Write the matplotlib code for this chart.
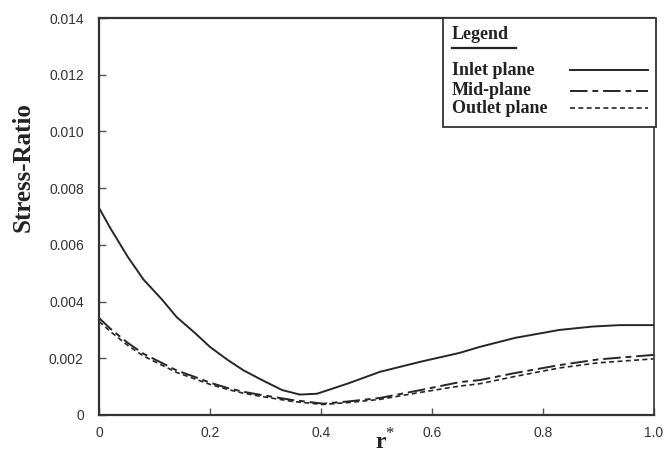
import matplotlib
matplotlib.use("Agg")
import matplotlib.pyplot as plt
from matplotlib.lines import Line2D
from matplotlib.patches import Rectangle

plt.rcParams["mathtext.fontset"] = "custom"
plt.rcParams["mathtext.bf"] = "Liberation Serif:bold"
plt.rcParams["mathtext.rm"] = "Liberation Serif"

# Data
inlet_x = [0, 0.02, 0.052, 0.08, 0.114, 0.14, 0.173, 0.2, 0.232, 0.26, 0.294, 0.33, 0.362, 0.393,
           0.45, 0.506, 0.58, 0.65, 0.686, 0.75, 0.83, 0.89, 0.939, 1.0]
inlet_y = [0.0073, 0.0066, 0.00557, 0.00478, 0.00406, 0.00345, 0.00289, 0.0024, 0.00194, 0.00158,
           0.00123, 0.00088, 0.00072, 0.00075, 0.00112, 0.00152, 0.00188, 0.00219, 0.0024, 0.00272,
           0.0030, 0.00312, 0.00317, 0.00317]

mid_x = [0, 0.02, 0.052, 0.08, 0.114, 0.14, 0.173, 0.2, 0.232, 0.26, 0.294, 0.348, 0.404,
         0.45, 0.506, 0.58, 0.65, 0.686, 0.75, 0.83, 0.9, 1.0]
mid_y = [0.00342, 0.00305, 0.00254, 0.00216, 0.00183, 0.00157, 0.00134, 0.00114, 0.00095, 0.00082,
         0.0007, 0.00053, 0.0004, 0.00048, 0.0006, 0.00088, 0.00116, 0.00123, 0.00148, 0.00176,
         0.00196, 0.00212]

outlet_x = [0, 0.02, 0.052, 0.08, 0.114, 0.14, 0.173, 0.2, 0.232, 0.26, 0.294, 0.348, 0.404,
            0.45, 0.506, 0.58, 0.65, 0.686, 0.75, 0.83, 0.9, 1.0]
outlet_y = [0.0033, 0.00295, 0.00245, 0.00208, 0.00175, 0.0015, 0.00127, 0.00108, 0.0009, 0.00077,
            0.00065, 0.00048, 0.00037, 0.00044, 0.00055, 0.0008, 0.00102, 0.0011, 0.00136, 0.00166,
            0.00184, 0.00198]

labels = ["Inlet plane", "Mid-plane", "Outlet plane"]
xticks = [0, 0.2, 0.4, 0.6, 0.8, 1.0]
xticklabels = ["0", "0.2", "0.4", "0.6", "0.8", "1.0"]
yticks = [0, 0.002, 0.004, 0.006, 0.008, 0.010, 0.012, 0.014]
yticklabels = ["0", "0.002", "0.004", "0.006", "0.008", "0.010", "0.012", "0.014"]

fig = plt.figure(figsize=(6.65, 4.61), dpi=100)
ax = fig.add_axes([0.149, 0.0998, 0.834, 0.861])

col = "#262626"
styles = [dict(lw=1.4), dict(lw=1.4, dashes=(9, 2.5, 3, 2.5)), dict(lw=1.2, dashes=(3, 2))]
ax.plot(inlet_x, inlet_y, color=col, **styles[0])
ax.plot(mid_x, mid_y, color=col, **styles[1])
ax.plot(outlet_x, outlet_y, color=col, **styles[2])

ax.set_xlim(0, 1.0)
ax.set_ylim(0, 0.014)
ax.set_xticks(xticks)
ax.set_xticklabels(xticklabels)
ax.set_yticks(yticks)
ax.set_yticklabels(yticklabels)
ax.tick_params(direction="in", length=5, width=1, colors="#555555",
               labelcolor="#333333", labelsize=10)
ax.tick_params(axis="x", pad=8)
ax.tick_params(axis="y", pad=11)
for lab in ax.get_xticklabels() + ax.get_yticklabels():
    lab.set_family("Liberation Sans")

for s in ax.spines.values():
    s.set_color("#333333")
    s.set_linewidth(1.6)
ax.spines["right"].set_linewidth(1.2)

serif = "Liberation Serif"
ax.set_ylabel("Stress-Ratio", family=serif, weight="bold", fontsize=18, color="#222222")
ax.yaxis.set_label_coords(-0.117, 0.625)
ax.set_xlabel(r"$\mathbf{r}^{*}$", fontsize=17, color="#222222")
ax.xaxis.set_label_coords(0.515, -0.035)

# Manual legend (box, underlined title, left-aligned labels, samples on the right)
tr = ax.transAxes
ax.add_patch(Rectangle((0.620, 0.725), 0.385, 0.275, transform=tr, fill=True, facecolor="white",
                       edgecolor="#333333", lw=1.3, clip_on=False, zorder=5))
ax.text(0.636, 0.958, "Legend", transform=tr, family=serif, weight="bold", fontsize=13,
        va="center", ha="left", color="#222222", zorder=6)
ax.add_line(Line2D([0.636, 0.751], [0.924, 0.924], transform=tr, color="#222222", lw=1.6,
                   clip_on=False, zorder=6))
ys = [0.869, 0.817, 0.773]
for lab, yy, st in zip(labels, ys, styles):
    ax.text(0.636, yy, lab, transform=tr, family=serif, weight="bold", fontsize=13,
            va="center", ha="left", color="#222222", zorder=6)
    ax.add_line(Line2D([0.849, 0.99], [yy, yy], transform=tr, color=col, clip_on=False,
                       zorder=6, **st))

fig.savefig("out.png", dpi=100)
